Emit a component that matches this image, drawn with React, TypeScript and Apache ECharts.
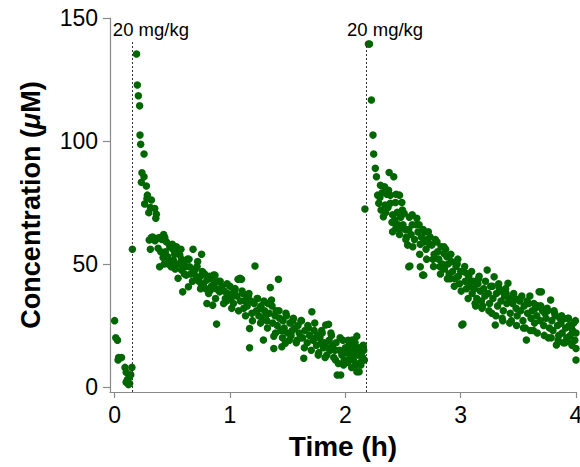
import React, { useEffect, useRef } from "react";
import * as echarts from "echarts";

// Time (h), Concentration (µM)
const baselinePoints: [number, number][] = [
  [0.0, 27], [0.01, 20], [0.025, 19], [0.03, 11], [0.035, 12], [0.06, 12], [0.09, 8], [0.1, 6],
  [0.1, 2], [0.11, 3], [0.12, 1], [0.125, 4], [0.13, 1.5], [0.14, 5], [0.15, 8],
];

const dose1Points: [number, number][] = [
  [0.154, 56], [0.19, 135.4], [0.197, 122.8], [0.206, 118.4], [0.217, 114.3], [0.22, 102.4], [0.226, 98.7],
  [0.255, 94.7], [0.237, 87.1], [0.255, 85.5], [0.232, 83.2], [0.275, 81.7], [0.284, 78], [0.319, 76],
  [0.26, 74.4], [0.348, 72.6], [0.296, 70.9], [0.362, 70.2], [0.357, 68.6], [0.28, 76.5], [0.31, 73],
  [0.3, 59.8], [0.319, 60.8], [0.33, 61], [0.35, 59.5], [0.37, 60.5], [0.39, 60.8], [0.41, 60], [0.435, 60.8],
  [0.45, 59], [0.31, 56], [0.377, 56.4], [0.4, 55], [0.42, 52.7], [0.46, 53], [0.478, 57], [0.5, 58],
  [0.536, 57], [0.52, 54], [0.55, 55], [0.565, 53.7], [0.58, 52], [0.6, 51], [0.39, 48.9], [0.49, 48.9],
  [0.47, 51], [0.44, 55], [0.51, 51.5], [0.54, 50], [0.58, 47.6], [0.62, 49], [0.65, 48.9], [0.63, 52],
  [0.68, 56], [0.72, 51], [0.754, 54], [0.7, 48], [0.55, 44.2], [0.62, 45.5], [0.66, 46], [0.71, 44.8],
  [0.74, 44.8], [0.76, 47], [0.78, 46], [0.8, 43.5], [0.82, 45], [0.855, 45.5], [0.87, 45.5], [0.64, 40.8],
  [0.59, 38.7], [0.754, 41.5], [0.79, 40], [0.83, 39.4], [0.86, 42], [0.88, 40], [0.91, 38.7], [0.9, 43],
  [0.93, 41], [0.96, 36], [0.8, 34], [0.85, 33.3], [0.884, 25.6], [0.95, 39], [0.98, 38], [1.0, 41],
  [1.01, 36], [1.03, 34], [1.04, 39], [1.06, 37], [1.07, 43.8], [1.1, 43.8], [1.087, 44.2], [1.09, 35],
  [1.11, 38], [1.12, 32], [1.14, 36], [1.15, 33], [1.17, 23.8], [1.17, 16], [1.18, 35], [1.19, 30],
  [1.217, 49.2], [1.21, 34], [1.23, 31], [1.24, 36], [1.25, 29], [1.27, 33], [1.29, 19.1], [1.28, 28],
  [1.3, 31], [1.32, 27], [1.33, 34], [1.35, 40.5], [1.36, 35.4], [1.34, 30], [1.37, 26], [1.38, 20.7],
  [1.38, 15.7], [1.39, 29], [1.4, 31], [1.41, 25], [1.42, 43.8], [1.43, 28], [1.44, 23], [1.45, 16.4],
  [1.46, 27], [1.48, 17.8], [1.47, 24], [1.49, 29], [1.5, 22], [1.52, 26], [1.53, 21], [1.55, 28],
  [1.56, 24], [1.58, 19], [1.59, 25], [1.6, 22], [1.62, 27], [1.64, 11.7], [1.63, 20], [1.65, 23],
  [1.67, 18], [1.68, 24], [1.69, 21], [1.71, 30.6], [1.72, 19], [1.73, 23], [1.75, 17], [1.76, 21],
  [1.77, 14], [1.78, 20], [1.8, 22], [1.81, 16], [1.83, 25.2], [1.82, 18], [1.84, 13], [1.855, 25.5],
  [1.86, 19], [1.87, 15], [1.88, 21], [1.89, 17], [1.9, 12], [1.92, 18], [1.93, 4.9], [1.94, 9.6],
  [1.96, 4.9], [1.95, 15], [1.97, 13], [1.98, 19], [1.99, 11], [2.0, 16], [2.01, 14], [2.02, 10],
  [2.03, 17], [2.04, 12], [2.05, 15], [2.06, 19.1], [2.07, 11], [2.08, 14], [2.09, 9], [2.1, 20.7],
  [2.1, 6.2], [2.12, 6.2], [2.11, 13], [2.12, 16], [2.13, 10], [2.14, 14], [2.15, 12], [2.16, 15],
  [2.165, 11], [0.43, 50], [0.57, 50], [0.69, 47], [0.73, 43], [0.77, 42], [0.84, 41], [0.97, 35],
  [1.02, 38], [1.13, 35], [1.16, 37], [1.26, 32], [1.31, 29], [1.46, 23], [1.54, 23], [1.61, 20],
  [1.74, 20], [1.79, 18], [1.85, 16], [1.91, 15], [2.06, 13], [2.08, 16],
  [0.425, 62], [0.465, 50], [0.505, 56], [0.525, 48], [0.575, 56], [0.605, 46], [0.645, 52], [0.675, 43],
  [0.715, 49], [0.745, 40], [0.775, 46], [0.815, 38], [0.845, 44], [0.875, 36], [0.915, 43], [0.945, 34],
  [0.975, 42], [1.015, 32], [1.045, 40], [1.075, 31], [1.105, 39], [1.135, 29], [1.165, 38], [1.195, 27],
  [1.235, 36], [1.265, 26], [1.295, 35], [1.325, 24], [1.365, 33], [1.395, 22], [1.425, 31], [1.455, 20],
  [1.485, 30], [1.515, 19], [1.545, 27], [1.575, 18], [1.615, 27], [1.645, 16], [1.675, 25], [1.705, 15],
  [1.735, 26], [1.765, 13], [1.795, 23], [1.825, 12], [1.875, 22], [1.915, 11], [1.955, 20], [1.985, 9],
  [2.025, 19], [2.055, 8], [2.085, 18], [2.135, 9], [2.155, 17],
];

const dose2Points: [number, number][] = [
  [2.17, 72.4], [2.2, 139.4], [2.21, 139.4], [2.226, 116.7], [2.24, 102.4], [2.246, 94.7], [2.26, 88.9],
  [2.27, 85.5], [2.38, 87.2], [2.42, 85.5], [2.34, 81.4], [2.28, 78], [2.3, 77], [2.32, 79], [2.36, 78.4],
  [2.39, 78], [2.44, 78.4], [2.47, 78], [2.29, 74.7], [2.31, 72], [2.33, 69.2], [2.35, 71], [2.37, 73],
  [2.39, 74.7], [2.41, 70], [2.43, 68], [2.45, 71], [2.46, 66], [2.48, 69], [2.5, 66], [2.51, 70.6],
  [2.52, 64], [2.41, 63.1], [2.44, 65], [2.47, 62], [2.53, 61], [2.55, 64], [2.57, 62], [2.58, 66],
  [2.6, 60], [2.62, 68.6], [2.63, 63], [2.65, 58], [2.66, 61], [2.68, 59], [2.69, 63], [2.7, 56],
  [2.72, 63.1], [2.73, 58], [2.75, 57.7], [2.54, 57.7], [2.56, 49.2], [2.55, 48.9], [2.65, 48.9],
  [2.67, 45.5], [2.68, 45.5], [2.77, 54], [2.78, 60], [2.8, 55], [2.81, 52], [2.83, 57], [2.855, 54.3],
  [2.84, 50], [2.86, 48], [2.88, 53], [2.89, 50], [2.9, 46], [2.92, 51], [2.93, 47], [2.95, 44],
  [2.96, 49], [2.98, 45], [2.99, 42], [3.0, 47], [3.01, 25.2], [3.02, 25.6], [3.03, 46.9], [3.04, 43],
  [3.05, 40], [3.07, 45], [3.08, 41], [3.1, 38], [3.11, 43], [3.12, 40], [3.14, 36], [3.15, 42],
  [3.17, 39], [3.18, 35], [3.2, 40], [3.21, 37], [3.23, 47.6], [3.24, 38], [3.25, 34], [3.26, 41],
  [3.28, 36], [3.29, 44.8], [3.3, 25.2], [3.31, 38], [3.32, 33], [3.34, 39], [3.35, 35], [3.37, 31],
  [3.38, 37], [3.4, 34], [3.41, 42.2], [3.42, 36], [3.43, 30], [3.45, 34], [3.46, 38], [3.48, 32],
  [3.49, 29], [3.51, 35], [3.52, 31], [3.54, 27], [3.55, 33], [3.57, 19.1], [3.58, 30], [3.59, 34],
  [3.61, 28], [3.62, 31], [3.64, 26], [3.65, 32], [3.66, 29], [3.68, 38.7], [3.69, 27], [3.7, 38.7],
  [3.71, 31], [3.72, 25], [3.74, 28], [3.75, 32], [3.77, 24], [3.78, 35.4], [3.79, 27], [3.8, 23],
  [3.82, 29], [3.83, 17.1], [3.84, 25], [3.85, 21], [3.87, 26], [3.88, 22], [3.9, 27.9], [3.91, 24],
  [3.92, 20], [3.94, 25], [3.95, 21], [3.96, 18], [3.97, 23], [3.98, 26], [3.99, 19], [4.0, 15.7],
  [4.0, 11], [4.0, 22], [2.49, 75], [2.58, 70], [2.64, 66], [2.71, 60], [2.76, 52], [2.82, 49],
  [2.87, 56], [2.91, 44], [2.97, 50], [3.06, 46], [3.09, 43], [3.13, 33], [3.16, 45], [3.19, 33],
  [3.27, 30], [3.33, 42], [3.36, 28], [3.39, 40], [3.44, 27], [3.47, 36], [3.53, 37], [3.56, 24],
  [3.6, 37], [3.63, 23], [3.67, 33], [3.73, 30], [3.76, 20], [3.81, 31], [3.86, 28], [3.89, 18],
  [3.93, 28], [3.96, 24],
  [2.305, 82], [2.345, 74], [2.375, 80], [2.405, 67], [2.435, 75], [2.465, 64], [2.495, 72], [2.525, 60],
  [2.555, 69], [2.585, 57], [2.615, 66], [2.645, 54], [2.675, 64], [2.705, 52], [2.735, 61], [2.765, 49],
  [2.795, 59], [2.825, 46], [2.855, 57], [2.885, 44], [2.915, 54], [2.945, 41], [2.975, 52], [3.005, 39],
  [3.035, 49], [3.065, 36], [3.095, 47], [3.125, 34], [3.155, 44], [3.185, 32], [3.215, 43], [3.245, 31],
  [3.275, 41], [3.305, 29], [3.335, 40], [3.365, 27], [3.395, 38], [3.425, 26], [3.455, 37], [3.485, 25],
  [3.515, 36], [3.545, 24], [3.575, 35], [3.605, 23], [3.635, 34], [3.665, 22], [3.695, 33], [3.725, 21],
  [3.755, 31], [3.785, 20], [3.815, 30], [3.845, 19], [3.875, 29], [3.905, 18], [3.935, 28], [3.965, 17],
  [3.995, 27],
];

const doseTimes = [0.15, 2.18];
const doseLabel = "20 mg/kg";
const doseLineTop = 141;
const xTicks = [0, 1, 2, 3, 4];
const yTicks = [0, 50, 100, 150];

const FONT = "'Liberation Sans', Arial, Helvetica, sans-serif";
const GREEN = "#006600";
const AXIS = "#8a8a8a";

export default function App() {
  const ref = useRef<HTMLDivElement>(null);
  useEffect(() => {
    if (!ref.current) return;
    const chart = echarts.init(ref.current, null, { renderer: "svg" });
    const allPoints = [...baselinePoints, ...dose1Points, ...dose2Points];
    chart.setOption({
      animation: false,
      backgroundColor: "#ffffff",
      grid: { left: 110, right: 4, top: 18, bottom: 75, containLabel: false, outerBoundsMode: "none" },
      xAxis: {
        type: "value",
        min: -0.04,
        max: 4,
        name: "Time (h)",
        nameLocation: "middle",
        nameGap: 40,
        nameTextStyle: { fontFamily: FONT, fontSize: 28, fontWeight: "bold", color: "#000" },
        axisLine: { onZero: false, lineStyle: { color: AXIS, width: 1.2 } },
        axisTick: { show: true, customValues: xTicks, length: 6, lineStyle: { color: AXIS, width: 1.2 } },
        axisLabel: { customValues: xTicks, fontFamily: FONT, fontSize: 23, color: "#000", margin: 11 },
        splitLine: { show: false },
      },
      yAxis: {
        type: "value",
        min: -2,
        max: 150,
        name: "{n|Concentration (}{i|μ}{n|M)}",
        nameLocation: "middle",
        nameGap: 66,
        nameTextStyle: {
          rich: {
            n: { fontFamily: FONT, fontSize: 27, fontWeight: "bold", color: "#000" },
            i: { fontFamily: FONT, fontSize: 27, fontWeight: "bold", fontStyle: "italic", color: "#000" },
          },
        },
        axisLine: { onZero: false, lineStyle: { color: AXIS, width: 1.2 } },
        axisTick: { show: true, customValues: yTicks, length: 7, lineStyle: { color: AXIS, width: 1.2 } },
        axisLabel: { customValues: yTicks, fontFamily: FONT, fontSize: 23, color: "#000", margin: 12 },
        splitLine: { show: false },
      },
      series: [
        {
          type: "scatter",
          data: allPoints,
          symbol: "circle",
          symbolSize: 7.5,
          itemStyle: { color: GREEN, opacity: 1 },
          clip: false,
          markLine: {
            silent: true,
            symbol: "none",
            lineStyle: { color: "#333", width: 1, type: [2, 2] },
            label: {
              show: true,
              position: "end",
              distance: 1,
              formatter: doseLabel,
              fontFamily: FONT,
              fontSize: 18.5,
              color: "#000",
              padding: [0, 0, 0, 38],
            },
            data: doseTimes.map((t) => [
              { coord: [t, -2] },
              { coord: [t, doseLineTop] },
            ]),
          },
        },
      ],
    });
    return () => chart.dispose();
  }, []);
  return (
    <div
      ref={ref}
      style={{ position: "fixed", left: 0, top: 0, width: 580, height: 467, background: "#fff" }}
    />
  );
}
